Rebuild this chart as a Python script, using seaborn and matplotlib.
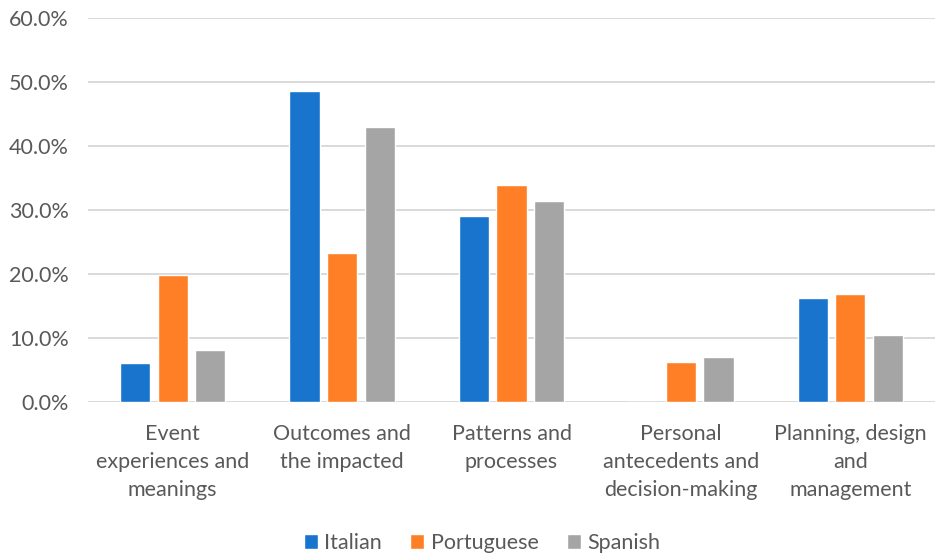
import matplotlib
matplotlib.use("Agg")
import matplotlib.pyplot as plt
import seaborn as sns
import pandas as pd
from matplotlib.ticker import FuncFormatter

categories = ["Event\nexperiences and\nmeanings", "Outcomes and\nthe impacted",
              "Patterns and\nprocesses", "Personal\nantecedents and\ndecision-making",
              "Planning, design\nand\nmanagement"]
series = ["Italian", "Portuguese", "Spanish"]
italian = [6.1, 48.6, 29.0, 0.0, 16.2]
portuguese = [19.8, 23.3, 33.9, 6.2, 16.8]
spanish = [8.1, 43.0, 31.4, 7.0, 10.5]
colors = ["#1874CD", "#FF7F27", "#A5A5A5"]

rows = []
for name, vals in zip(series, [italian, portuguese, spanish]):
    for c, v in zip(categories, vals):
        rows.append({"category": c, "series": name, "value": v})
df = pd.DataFrame(rows)

sns.set_theme(style="white")
plt.rcParams['font.family'] = ['Lato', 'DejaVu Sans']
text_color = "#595959"
fs = 15.5

fig = plt.figure(figsize=(9.35, 5.58), dpi=100)
ax = fig.add_axes([88/935, 1-402/558, (935-88)/935, (402-18)/558])

sns.barplot(data=df, x="category", y="value", hue="series", palette=colors,
            order=categories, hue_order=series, width=0.667, gap=0.2,
            ax=ax, saturation=1, legend=True, zorder=3)

ax.set_ylim(0, 60)
ax.set_yticks([0, 10, 20, 30, 40, 50, 60])
ax.yaxis.set_major_formatter(FuncFormatter(lambda v, p: f"{v:.1f}%"))
ax.grid(axis="y", color="#D9D9D9", linewidth=1.4, zorder=0)
ax.set_axisbelow(True)
for s in ax.spines.values():
    s.set_visible(False)
ax.set_xlabel("")
ax.set_ylabel("")
ax.tick_params(axis="y", length=0, labelsize=fs, labelcolor=text_color, pad=14)
ax.tick_params(axis="x", length=0, labelsize=fs, labelcolor=text_color, pad=16)
for lab in ax.get_xticklabels():
    lab.set_linespacing(1.5)
    lab.set_verticalalignment("top")

handles, labels = ax.get_legend_handles_labels()
ax.legend_.remove()
fig.legend(handles, labels, loc="center", bbox_to_anchor=(482/935, 1-543/558),
           ncol=3, frameon=False, fontsize=fs, labelcolor=text_color,
           handlelength=0.65, handleheight=0.65, handletextpad=0.3, columnspacing=1.3)

fig.savefig("out.png", dpi=100)
